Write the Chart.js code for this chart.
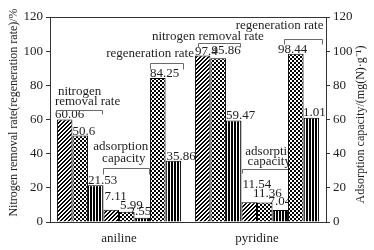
<!DOCTYPE html>
<html><head><meta charset="utf-8">
<script src="https://cdn.jsdelivr.net/npm/chart.js@4.4.1/dist/chart.umd.min.js"></script>
<style>html,body{margin:0;padding:0;background:#fff;}canvas{display:block;}</style>
</head><body>
<canvas id="c" width="374" height="250"></canvas>
<script>
// ---- data ----
const categories = ['aniline', 'pyridine'];
const removalHatch = [60.06, 97.4];
const removalCheck = [50.6, 95.86];
const removalStripe = [21.53, 59.47];
const adsorptionHatch = [7.11, 11.54];
const adsorptionCheck = [5.99, 11.36];
const adsorptionStripe = [2.55, 7.04];
const regenCheck = [84.25, 98.44];
const regenStripe = [35.86, 61.01];
const yTicks = [0, 20, 40, 60, 80, 100, 120];
const leftTitle = 'Nitrogen removal rate(regeneration rate)/%';
const rightTitle = 'Adsorption capacity/(mg(N)·g⁻¹)';

// ---- style ----
const FONT = "'Liberation Serif', 'Times New Roman', serif";
const INK = '#1e1e1e';

function makePattern(kind) {
  const size = kind === 'stripe' ? 3 : 4;
  const c = document.createElement('canvas');
  c.width = size; c.height = size;
  const g = c.getContext('2d');
  g.fillStyle = '#fff'; g.fillRect(0, 0, size, size);
  g.fillStyle = '#000';
  for (let x = 0; x < size; x++) for (let y = 0; y < size; y++) {
    let on = false;
    if (kind === 'hatch') on = (x + y) % 4 < 2;
    else if (kind === 'check') on = (((x >> 1) + (y >> 1)) % 2) === 0;
    else on = x < 2;
    if (on) g.fillRect(x, y, 1, 1);
  }
  return g.createPattern(c, 'repeat');
}
const fills = { hatch: makePattern('hatch'), check: makePattern('check'), stripe: makePattern('stripe') };

const series = [
  { values: removalHatch, fill: 'hatch', axis: 'y' },
  { values: removalCheck, fill: 'check', axis: 'y' },
  { values: removalStripe, fill: 'stripe', axis: 'y' },
  { values: adsorptionHatch, fill: 'hatch', axis: 'y1' },
  { values: adsorptionCheck, fill: 'check', axis: 'y1' },
  { values: adsorptionStripe, fill: 'stripe', axis: 'y1' },
  { values: regenCheck, fill: 'check', axis: 'y' },
  { values: regenStripe, fill: 'stripe', axis: 'y' }
];

// label nudges [dx from bar left, dy from bar top] per dataset per category
const labelNudge = [
  [[-2, -1], [0, -1]],
  [[0, -1], [1, -4]],
  [[0, -1], [0, -1]],
  [[1, -10], [1, -14]],
  [[1, -3], [-4, -6]],
  [[-6, -3], [-4, -5]],
  [[0, -1], [-10, -1]],
  [[1, -1], [-7, -2]]
];

// group annotations (bracket over a range of bars + caption)
const notes = [
  { cat: 0, from: 0, to: 2, inset: [-1, -1], bracket: 65.6, tick: 4,
    texts: [{ t: 'nitrogen', ref: 'left', dx: 2, v: 76.4, align: 'left' },
            { t: 'removal rate', ref: 'left', dx: -1, v: 70.4, align: 'left' }] },
  { cat: 0, from: 3, to: 5, inset: [0, -1], bracket: 31.4, tick: 6,
    texts: [{ t: 'adsorption', ref: 'center', dx: -5.5, v: 44.3, align: 'center' },
            { t: 'capacity', ref: 'center', dx: -2.5, v: 37.3, align: 'center' }] },
  { cat: 0, from: 6, to: 7, inset: [0, 2], bracket: 92.9, tick: 6,
    texts: [{ t: 'regeneration rate', ref: 'center', dx: -16.5, v: 98.3, align: 'center' }] },
  { cat: 1, from: 0, to: 2, inset: [3, -1], bracket: 105, tick: 4,
    texts: [{ t: 'nitrogen removal rate', ref: 'left', dx: -46, v: 108.5, align: 'left' }] },
  { cat: 1, from: 3, to: 5, inset: [1, 0], bracket: 30.9, tick: 4,
    texts: [{ t: 'adsorption', ref: 'center', dx: 7.5, v: 41.2, align: 'center' },
            { t: 'capacity', ref: 'center', dx: 4, v: 35.3, align: 'center' }] },
  { cat: 1, from: 6, to: 7, inset: [-4, 3], bracket: 107.1, tick: 5,
    texts: [{ t: 'regeneration rate', ref: 'center', dx: -23.5, v: 114.8, align: 'center' }] }
];

const px = v => Math.round(v) + 0.5;

function drawVerticalTitle(ctx, text, x, y) {
  ctx.save();
  ctx.translate(x, y);
  ctx.rotate(-Math.PI / 2);
  ctx.font = '12px ' + FONT;
  ctx.fillStyle = INK;
  ctx.textAlign = 'center';
  ctx.textBaseline = 'middle';
  ctx.fillText(text, 0, 0);
  ctx.restore();
}

const notePlugin = {
  id: 'notes',
  beforeDatasetsDraw(chart) {
    const ctx = chart.ctx;
    const ys = chart.scales.y;
    ctx.save();
    ctx.font = '13px ' + FONT;
    ctx.fillStyle = INK;
    series.forEach((s, i) => {
      const meta = chart.getDatasetMeta(i);
      meta.data.forEach((bar, j) => {
        const [dx, dy] = labelNudge[i][j];
        ctx.textAlign = 'left';
        ctx.textBaseline = 'alphabetic';
        ctx.fillText(String(s.values[j]), bar.x - bar.width / 2 + dx, bar.y + dy);
      });
    });
    notes.forEach(n => {
      const b0 = chart.getDatasetMeta(n.from).data[n.cat];
      const b1 = chart.getDatasetMeta(n.to).data[n.cat];
      const x0 = b0.x - b0.width / 2 + n.inset[0];
      const x1 = b1.x + b1.width / 2 + n.inset[1];
      const by = px(ys.getPixelForValue(n.bracket));
      ctx.strokeStyle = '#6a6a6a';
      ctx.lineWidth = 1;
      ctx.beginPath();
      ctx.moveTo(px(x0), by + n.tick);
      ctx.lineTo(px(x0), by);
      ctx.lineTo(px(x1), by);
      ctx.lineTo(px(x1), by + n.tick);
      ctx.stroke();
      n.texts.forEach(t => {
        const base = t.ref === 'left' ? x0 : (x0 + x1) / 2;
        ctx.textAlign = t.align;
        ctx.textBaseline = 'middle';
        ctx.fillText(t.t, base + t.dx, ys.getPixelForValue(t.v));
      });
    });
    ctx.restore();
  },
  afterDraw(chart) {
    const ctx = chart.ctx;
    const a = chart.chartArea;
    ctx.save();
    ctx.strokeStyle = '#333';
    ctx.lineWidth = 1;
    ctx.beginPath();
    ctx.moveTo(Math.round(a.left), px(a.top));
    ctx.lineTo(Math.round(a.right) + 1, px(a.top));
    ctx.stroke();
    ctx.restore();
    const l = chart.scales.y;
    const r = chart.scales.y1;
    const mid = (a.top + a.bottom) / 2;
    drawVerticalTitle(ctx, leftTitle, l.left + 14, mid - 7);
    drawVerticalTitle(ctx, rightTitle, r.right - 13, mid + 5);
  }
};

const tickFont = { family: FONT, size: 13 };
function yAxis(pos, width) {
  return {
    position: pos, min: 0, max: 120,
    afterBuildTicks: s => { s.ticks = yTicks.map(v => ({ value: v })); },
    grid: { display: true, drawOnChartArea: false, drawTicks: true, tickLength: 4, color: '#333' },
    border: { display: true, color: '#333', width: 1 },
    ticks: { padding: 3, color: INK, font: tickFont },
    afterFit: s => { s.width = width; }
  };
}

new Chart(document.getElementById('c'), {
  type: 'bar',
  data: {
    labels: categories,
    datasets: series.map(s => ({
      data: s.values,
      yAxisID: s.axis,
      backgroundColor: fills[s.fill],
      borderColor: '#000',
      borderWidth: 1,
      categoryPercentage: 0.9,
      barPercentage: 1
    }))
  },
  options: {
    responsive: false,
    animation: false,
    devicePixelRatio: 1,
    layout: { padding: { top: 17, left: 0, right: 0, bottom: 0 } },
    plugins: { legend: { display: false }, tooltip: { enabled: false } },
    scales: {
      x: {
        grid: { display: false, drawTicks: false },
        border: { display: true, color: '#333', width: 1 },
        ticks: { color: INK, font: tickFont, padding: 9 },
        afterFit: s => { s.height = 28; }
      },
      y: yAxis('left', 50),
      y1: yAxis('right', 48)
    }
  },
  plugins: [notePlugin]
});
</script>
</body></html>
